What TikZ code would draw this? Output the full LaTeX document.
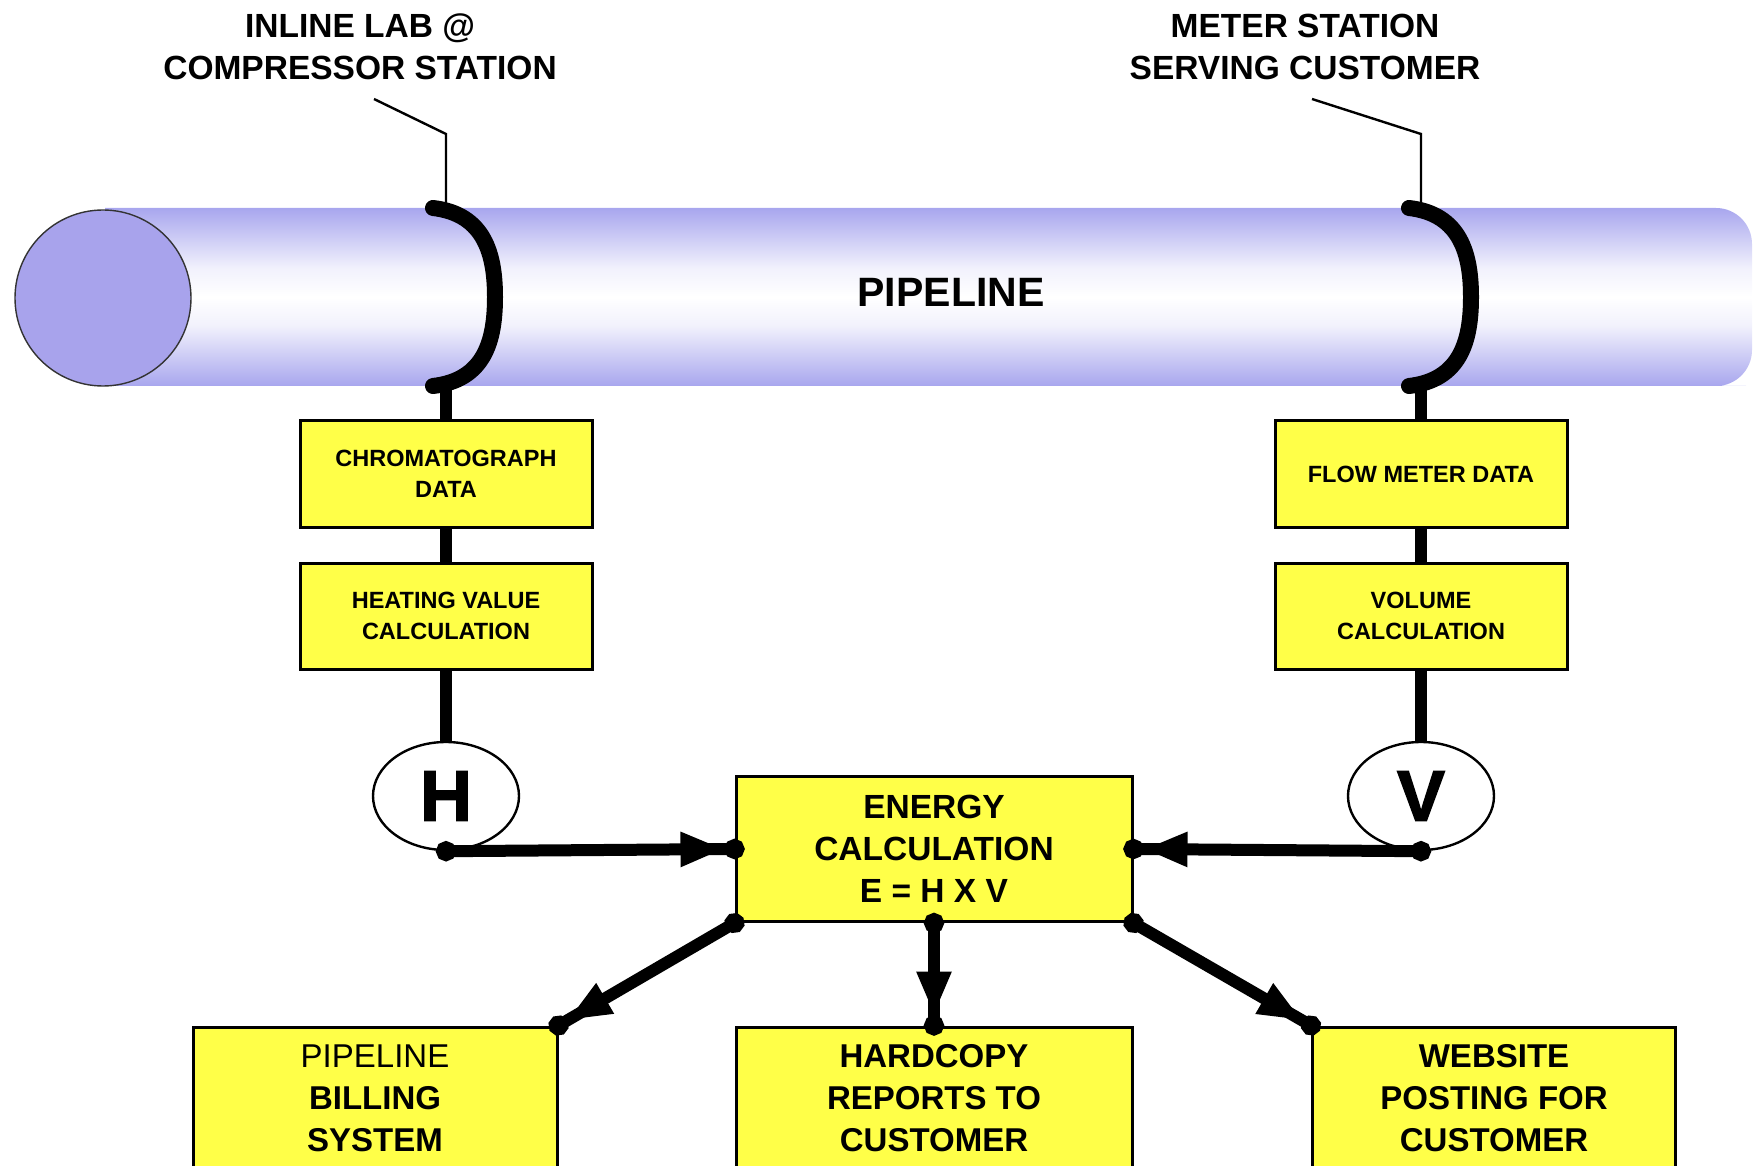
\documentclass[tikz,border=0pt]{standalone}
\usepackage{fontspec}
\setmainfont{Liberation Sans}
\newfontfamily\heavyfont[BoldFeatures={FakeBold=2}]{Liberation Sans}
\usetikzlibrary{arrows.meta,shapes.geometric}

\definecolor{pipeblue}{RGB}{168,166,238}
\definecolor{pipeend}{RGB}{168,163,236}
\definecolor{boxyellow}{RGB}{255,255,72}
\pgfdeclareverticalshading{pipeshade}{100bp}{color(0bp)=(pipeblue); color(25bp)=(pipeblue);
  color(31bp)=(pipeblue!70!white); color(42bp)=(pipeblue!15!white); color(50bp)=(white);
  color(58bp)=(pipeblue!15!white); color(69bp)=(pipeblue!70!white); color(75bp)=(pipeblue);
  color(100bp)=(pipeblue)}

\tikzset{
  stationtitle/.style={align=center, inner sep=0, font=\fontsize{16.75}{21}\selectfont\bfseries},
  databox/.style={draw, line width=1.5pt, fill=boxyellow, minimum width=146pt, minimum height=53pt,
    inner sep=0, align=center, font=\fontsize{11.75}{15.5}\selectfont\bfseries},
  resultbox/.style={draw, line width=1.5pt, fill=boxyellow, minimum height=71pt,
    inner sep=0, align=center, font=\fontsize{16.5}{21}\selectfont\bfseries},
  meter/.style={ellipse, draw, line width=1.2pt, fill=white, minimum width=73pt, minimum height=54pt,
    inner sep=0, font=\fontsize{36}{36}\selectfont\heavyfont\bfseries},
  leader/.style={line width=1.2pt},
  clamp/.style={line width=8pt, line cap=round},
  wire/.style={line width=6pt},
  flow/.style={line width=6pt, shorten <=-5pt, shorten >=-5pt,
    {Circle[length=10pt]}-{Triangle[length=22pt,width=16pt]Circle[length=10pt]}}
}

\begin{document}
\begin{tikzpicture}[x=0.5pt,y=-0.5pt]
\path[use as bounding box, clip] (0,0) rectangle (1763,1166);

% pipeline
\shade[shading=pipeshade] (105,208) -- (1710,208) [rounded corners=18pt] -- (1752,208) -- (1752,386)
  -- (1710,386) [sharp corners] -- (105,386) -- cycle;
\draw[fill=pipeend, draw=black!80, line width=0.7pt] (103,298) ellipse [x radius=88, y radius=88];
\node[font=\fontsize{20.5}{24}\selectfont\bfseries] (pipelabel) at (951,292) {PIPELINE};

% stations on the pipe
\draw[clamp] (433,208) .. controls (485,214) and (495,255) .. (495,297)
  .. controls (495,340) and (485,380) .. (433,386);
\draw[clamp] (1409,208) .. controls (1461,214) and (1471,255) .. (1471,297)
  .. controls (1471,340) and (1461,380) .. (1409,386);

\node[stationtitle] (labtitle) at (360,47) {INLINE LAB @\\COMPRESSOR STATION};
\node[stationtitle] (metertitle) at (1305,47) {METER STATION\\SERVING CUSTOMER};
\coordinate (labtip) at (374,99);
\coordinate (labknee) at (446,134);
\coordinate (labpin) at (446,206);
\coordinate (labfoot) at (446,386);
\coordinate (metertip) at (1312,99);
\coordinate (meterknee) at (1421,134);
\coordinate (meterpin) at (1421,206);
\coordinate (meterfoot) at (1421,386);
\draw[leader] (labtip) -- (labknee) -- (labpin);
\draw[leader] (metertip) -- (meterknee) -- (meterpin);

% data and calculation boxes
\node[databox] (chrom) at (446,474) {CHROMATOGRAPH\\DATA};
\node[databox] (heat) at (446,616) {HEATING VALUE\\CALCULATION};
\node[databox] (flowmeter) at (1421,474) {FLOW METER DATA};
\node[databox] (volume) at (1421,616) {VOLUME\\CALCULATION};
\node[meter] (H) at (446,796) {H};
\node[meter] (V) at (1421,796) {V};
\node[resultbox, minimum width=198pt, minimum height=72.5pt, font=\fontsize{16.75}{21}\selectfont\bfseries]
  (energy) at (934,849) {ENERGY\\CALCULATION\\E = H X V};

\node[resultbox, minimum width=182pt] (billing) at (375,1098) {{\mdseries PIPELINE}\\BILLING\\SYSTEM};
\node[resultbox, minimum width=198pt] (hardcopy) at (934,1098) {HARDCOPY\\REPORTS TO\\CUSTOMER};
\node[resultbox, minimum width=181.5pt] (website) at (1494,1098) {WEBSITE\\POSTING FOR\\CUSTOMER};

% connectors
\draw[wire] (labfoot) -- (chrom.north) (chrom) -- (heat) (heat.south) -- (H.north);
\draw[wire] (meterfoot) -- (flowmeter.north) (flowmeter) -- (volume) (volume.south) -- (V.north);
\path[flow]
  (H.south) edge (energy.west)
  (V.south) edge (energy.east)
  (energy.south west) edge (billing.north east)
  (energy.south) edge (hardcopy.north)
  (energy.south east) edge (website.north west);
\end{tikzpicture}
\end{document}
